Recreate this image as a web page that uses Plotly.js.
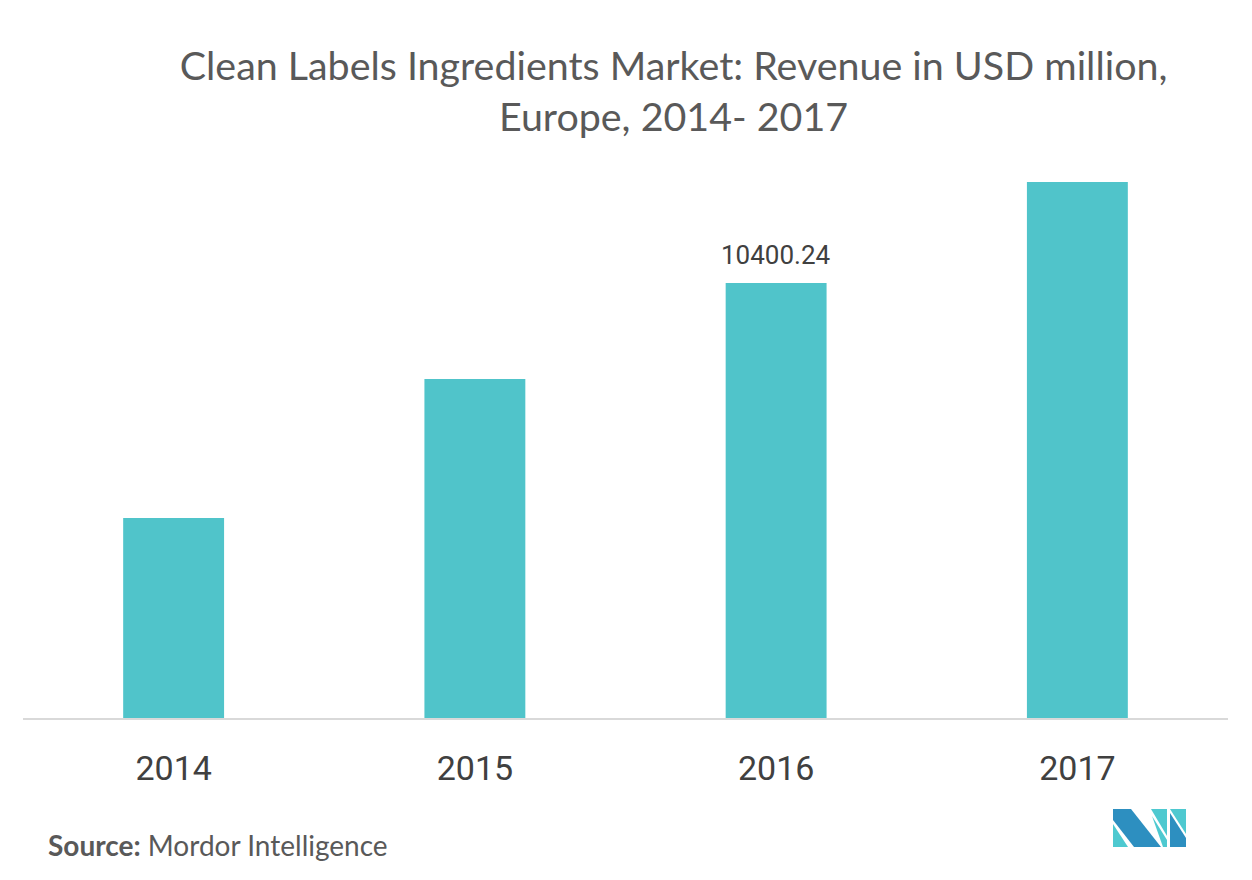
<!DOCTYPE html>
<html>
<head>
<meta charset="utf-8">
<script src="https://cdn.plot.ly/plotly-3.0.1.min.js"></script>
<style>
html,body{margin:0;padding:0;background:#fff;}
#wrap{position:relative;width:1252px;height:880px;}
#chart{width:1252px;height:880px;}
#logo{position:absolute;left:1110px;top:806px;}
</style>
</head>
<body>
<div id="wrap">
<div id="chart"></div>
<svg id="logo" width="80" height="46" viewBox="1110 806 80 46">
  <polygon points="1113,824 1113,847 1128,847" fill="#4ec9d0"/>
  <polygon points="1113,809 1131,809 1161,847 1134,847 1113,820" fill="#2d8fc0"/>
  <polygon points="1151,809 1167,809 1167,836" fill="#4ec9d0"/>
  <polygon points="1152,816 1167,840 1167,847 1163,847" fill="#4ec9d0"/>
  <polygon points="1170,809 1186,809 1186,834" fill="#4ec9d0"/>
  <polygon points="1170,813 1186,838 1186,847 1170,847" fill="#2d8fc0"/>
</svg>
</div>
<script>
var years = ['2014', '2015', '2016', '2017'];
var revenue = [4782, 8105, 10400.24, 12815];
var labelIndex = 2;
var labelText = '10400.24';

var trace = {
  type: 'bar',
  x: years,
  y: revenue,
  marker: {color: '#50c4ca'},
  hoverinfo: 'x+y'
};

var layout = {
  width: 1252,
  height: 880,
  margin: {l: 23, r: 24, t: 150, b: 162},
  paper_bgcolor: '#ffffff',
  plot_bgcolor: '#ffffff',
  bargap: 0.665,
  showlegend: false,
  title: {
    text: 'Clean Labels Ingredients Market: Revenue in USD million,<br>Europe, 2014- 2017',
    font: {family: 'Lato', size: 39.4, color: '#595959'},
    x: 0.538,
    xanchor: 'center',
    y: 0.909,
    yref: 'container',
    yanchor: 'bottom'
  },
  xaxis: {
    type: 'category',
    range: [-0.5, years.length - 0.5],
    showline: true,
    linecolor: '#d9d9d9',
    linewidth: 2,
    showgrid: false,
    zeroline: false,
    ticks: 'outside',
    ticklen: 19,
    tickcolor: 'rgba(0,0,0,0)',
    tickfont: {family: 'Roboto', size: 34, color: '#404040'}
  },
  yaxis: {
    range: [0, 13580],
    visible: false,
    showgrid: false,
    zeroline: false
  },
  annotations: [{
    text: labelText,
    xref: 'x', yref: 'y',
    x: labelIndex, y: revenue[labelIndex],
    yshift: 28,
    xanchor: 'center', yanchor: 'middle',
    showarrow: false,
    font: {family: 'Roboto', size: 26, color: '#404040'}
  }, {
    text: '<b>Source:</b> Mordor Intelligence',
    xref: 'paper', yref: 'paper',
    x: 0, y: 0,
    xshift: 23, yshift: -127,
    xanchor: 'left', yanchor: 'middle',
    showarrow: false,
    font: {family: 'Lato', size: 28, color: '#595959'}
  }]
};

Plotly.newPlot('chart', [trace], layout, {displayModeBar: false, staticPlot: true});
</script>
</body>
</html>
